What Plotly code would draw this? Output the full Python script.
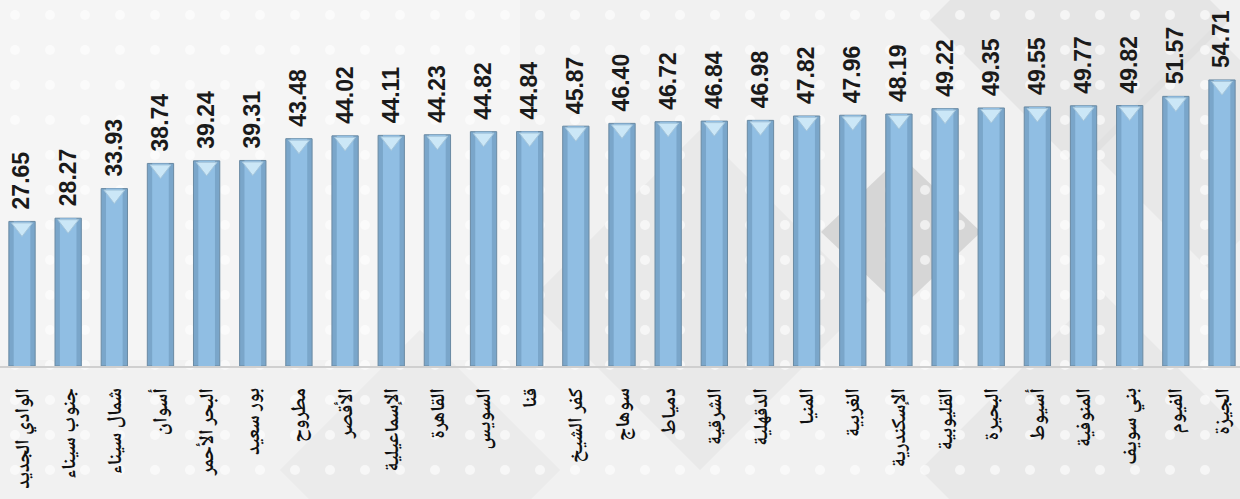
import plotly.graph_objects as go

# ---- data ----
governorates = [
    "الوادي الجديد", "جنوب سيناء", "شمال سيناء", "أسوان", "البحر الأحمر",
    "بور سعيد", "مطروح", "الأقصر", "الإسماعيلية", "القاهرة", "السويس",
    "قنا", "كفر الشيخ", "سوهاج", "دمياط", "الشرقية", "الدقهلية", "المنيا",
    "الغربية", "الإسكندرية", "القليوبية", "البحيرة", "أسيوط", "المنوفية",
    "بني سويف", "الفيوم", "الجيزة",
]
values = [
    27.65, 28.27, 33.93, 38.74, 39.24, 39.31, 43.48, 44.02, 44.11, 44.23,
    44.82, 44.84, 45.87, 46.40, 46.72, 46.84, 46.98, 47.82, 47.96, 48.19,
    49.22, 49.35, 49.55, 49.77, 49.82, 51.57, 54.71,
]
value_labels = [f"{v:.2f}" for v in values]

W, H = 1240, 499
MT, MB = 0, 133
Y_MAX = 70
X_RANGE = [-0.477, 26.39]
PLOT_H = H - MT - MB

# ---- decorative background via paper shapes ----
shapes = []


def px(x):
    return x / W


def py(y):
    return (H - MB - y) / PLOT_H


def diamond(cx, cy, hw, hh, fill, op):
    pts = [(cx, cy - hh), (cx + hw, cy), (cx, cy + hh), (cx - hw, cy)]
    path = "M " + " L ".join(f"{px(a):.5f},{py(b):.5f}" for a, b in pts) + " Z"
    return dict(type="path", path=path, xref="paper", yref="paper",
                fillcolor=fill, opacity=op, line=dict(width=0), layer="below")


shapes.append(dict(type="rect", xref="paper", yref="paper", x0=0, x1=1,
                   y0=py(H), y1=py(0), fillcolor="#f1f1f1", line=dict(width=0),
                   layer="below"))
shapes.append(dict(type="rect", xref="paper", yref="paper", x0=0, x1=px(520),
                   y0=py(360), y1=py(0), fillcolor="#fafafa", opacity=0.5,
                   line=dict(width=0), layer="below"))
shapes.append(diamond(1080, 20, 150, 150, "#d6d6d6", 0.45))
shapes.append(diamond(1210, 150, 120, 120, "#dcdcdc", 0.4))
shapes.append(diamond(700, 300, 170, 170, "#e2e2e2", 0.5))
shapes.append(diamond(901, 232, 80, 76, "#c8c8c8", 0.65))
shapes.append(diamond(1100, 470, 180, 180, "#dddddd", 0.45))
shapes.append(diamond(420, 470, 140, 140, "#e6e6e6", 0.5))
for yy in range(15, H, 35):
    for xx in range(15, W, 35):
        shapes.append(dict(type="circle", xref="paper", yref="paper",
                           x0=px(xx - 5), x1=px(xx + 5), y0=py(yy + 5), y1=py(yy - 5),
                           fillcolor="#ffffff", opacity=0.6, line=dict(width=0),
                           layer="below"))

fig = go.Figure()
fig.add_trace(go.Bar(
    x=governorates, y=values, width=0.57,
    marker=dict(color="#7aa6ca", line=dict(color="#6a8aa3", width=1)),
    hoverinfo="skip", showlegend=False,
))
fig.add_trace(go.Bar(
    x=governorates, y=values, width=0.36,
    marker=dict(color="#90bee3", line=dict(width=0)),
    hoverinfo="skip", showlegend=False,
))
fig.add_trace(go.Scatter(
    x=governorates, y=[v - 1.15 for v in values], mode="markers",
    marker=dict(symbol="triangle-down", size=18, color="#cbe7f7",
                line=dict(color="#a6c6db", width=1)),
    hoverinfo="skip", showlegend=False, cliponaxis=False,
))

# value labels: one free overlay x-axis per bar, sitting just above the bar top,
# whose single rotated tick label is the value
LABEL_GAP_PX = 12
extra_axes = {}
for i, (v, lab) in enumerate(zip(values, value_labels)):
    k = i + 2
    fig.add_trace(go.Scatter(
        x=[i], y=[v], xaxis=f"x{k}", yaxis="y", mode="markers",
        marker=dict(size=1, opacity=0), hoverinfo="skip", showlegend=False,
    ))
    extra_axes[f"xaxis{k}"] = dict(
        overlaying="x", anchor="free", side="top",
        position=v / Y_MAX + LABEL_GAP_PX / PLOT_H,
        type="linear", range=X_RANGE, tickmode="array",
        tickvals=[i], ticktext=["<b>" + lab + "</b>"], tickangle=-90,
        showline=False, showgrid=False, zeroline=False, ticks="",
        ticklabelstandoff=0, fixedrange=True,
        tickfont=dict(family="Arial, Liberation Sans, sans-serif", size=23,
                      color="#1a1a1a"),
    )

fig.update_layout(
    width=W, height=H,
    margin=dict(l=0, r=0, t=MT, b=MB, autoexpand=False),
    paper_bgcolor="#efefef", plot_bgcolor="rgba(0,0,0,0)",
    barmode="overlay", shapes=shapes, **extra_axes,
)
fig.update_layout(xaxis=dict(
    range=X_RANGE, showline=True, linecolor="#cfcfcf", linewidth=2,
    showgrid=False, zeroline=False, tickangle=-90, ticks="",
    ticklabelstandoff=12, fixedrange=True,
    tickvals=governorates, ticktext=["<b>" + g + "</b>" for g in governorates],
    tickfont=dict(family="Noto Naskh Arabic, Noto Sans Arabic, DejaVu Sans, sans-serif",
                  size=20, color="#111111"),
))
fig.update_yaxes(visible=False, range=[0, Y_MAX], fixedrange=True)

fig.write_html("out.html", post_script="document.body.style.margin='0';",
               config={"displayModeBar": False})
